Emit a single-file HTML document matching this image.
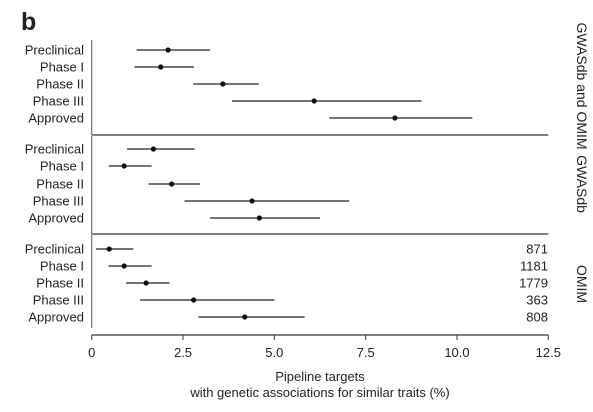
<!DOCTYPE html>
<html><head><meta charset="utf-8"><style>
body{margin:0;background:#fff;}
svg text{font-family:"Liberation Sans",sans-serif;fill:#222;}
</style></head><body>
<svg id="chart" width="593" height="407" xmlns="http://www.w3.org/2000/svg">
<text x="21" y="30" font-size="25" font-weight="bold">b</text>
<g id="g"></g>
</svg>
<script>
const categories = ["Preclinical","Phase I","Phase II","Phase III","Approved"];
const panelNames = ["GWASdb and OMIM","GWASdb","OMIM"];
const lo1 = [1.23,1.17,2.78,3.84,6.50], mid1 = [2.09,1.89,3.59,6.09,8.30], hi1 = [3.24,2.80,4.57,9.03,10.42];
const lo2 = [0.97,0.47,1.56,2.54,3.24], mid2 = [1.69,0.89,2.19,4.39,4.59], hi2 = [2.82,1.64,2.97,7.05,6.25];
const lo3 = [0.12,0.46,0.94,1.32,2.92], mid3 = [0.48,0.89,1.49,2.79,4.19], hi3 = [1.14,1.64,2.13,5.00,5.83];
const counts = ["871","1181","1779","363","808"];
const xTicks = [0,2.5,5,7.5,10,12.5];
const xTickLabels = ["0","2.5","5.0","7.5","10.0","12.5"];

const NS="http://www.w3.org/2000/svg", g=document.getElementById('g');
const x0=91.7, x1=548.3, xMax=12.5;
const X=v=>x0+(x1-x0)*v/xMax;
function mk(t,a){const e=document.createElementNS(NS,t);for(const k in a)e.setAttribute(k,a[k]);g.appendChild(e);return e;}
const panels=[{top:40,bot:135,rows:[50,67,84,101,118],lo:lo1,mid:mid1,hi:hi1},
 {top:136,bot:234,rows:[149,166,184,201,218],lo:lo2,mid:mid2,hi:hi2},
 {top:235,bot:328,rows:[249,266,283,300,317],lo:lo3,mid:mid3,hi:hi3}];
const labelY=[86,184,284];
panels.forEach((p,pi)=>{
  let l=mk('line',{x1:x0,x2:x0,y1:p.top,y2:p.bot,stroke:'#555','stroke-width':1});
  
  
  if(pi<2){let s=mk('line',{x1:x0,x2:x1,y1:(pi==0?135:234),y2:(pi==0?135:234),stroke:'#333','stroke-width':1.2});
    
    }
  categories.forEach((c,i)=>{
    const y=p.rows[i];
    let t=mk('text',{x:84,y:y+4.5,'font-size':13,'text-anchor':'end'});t.textContent=c;
    
    
    let ln=mk('line',{x1:X(p.lo[i]),x2:X(p.hi[i]),y1:y,y2:y,stroke:'#222','stroke-width':1.2});
    
    
    let d=mk('circle',{cx:X(p.mid[i]),cy:y,r:2.6,fill:'#111'});
    
    
    if(pi==2){let ct=mk('text',{x:548,y:y+4.5,'font-size':13,'text-anchor':'end'});ct.textContent=counts[i];
      
      }
  });
  let pt=mk('text',{x:0,y:0,'font-size':14,'text-anchor':'middle',transform:`translate(577,${labelY[pi]}) rotate(90)`});
  pt.textContent=panelNames[pi];
  
  
});
let ax=mk('line',{x1:x0,x2:x1,y1:335,y2:335,stroke:'#333','stroke-width':1.2});


xTicks.forEach((v,i)=>{
  let tk=mk('line',{x1:X(v),x2:X(v),y1:335,y2:340,stroke:'#333'});
  
  
  let tl=mk('text',{x:X(v),y:357,'font-size':13,'text-anchor':'middle'});tl.textContent=xTickLabels[i];
  
  
});
let a1=mk('text',{x:320,y:381,'font-size':13,'text-anchor':'middle'});a1.textContent='Pipeline targets';


let a2=mk('text',{x:320,y:397,'font-size':13,'text-anchor':'middle'});a2.textContent='with genetic associations for similar traits (%)';


</script>
</body></html>
